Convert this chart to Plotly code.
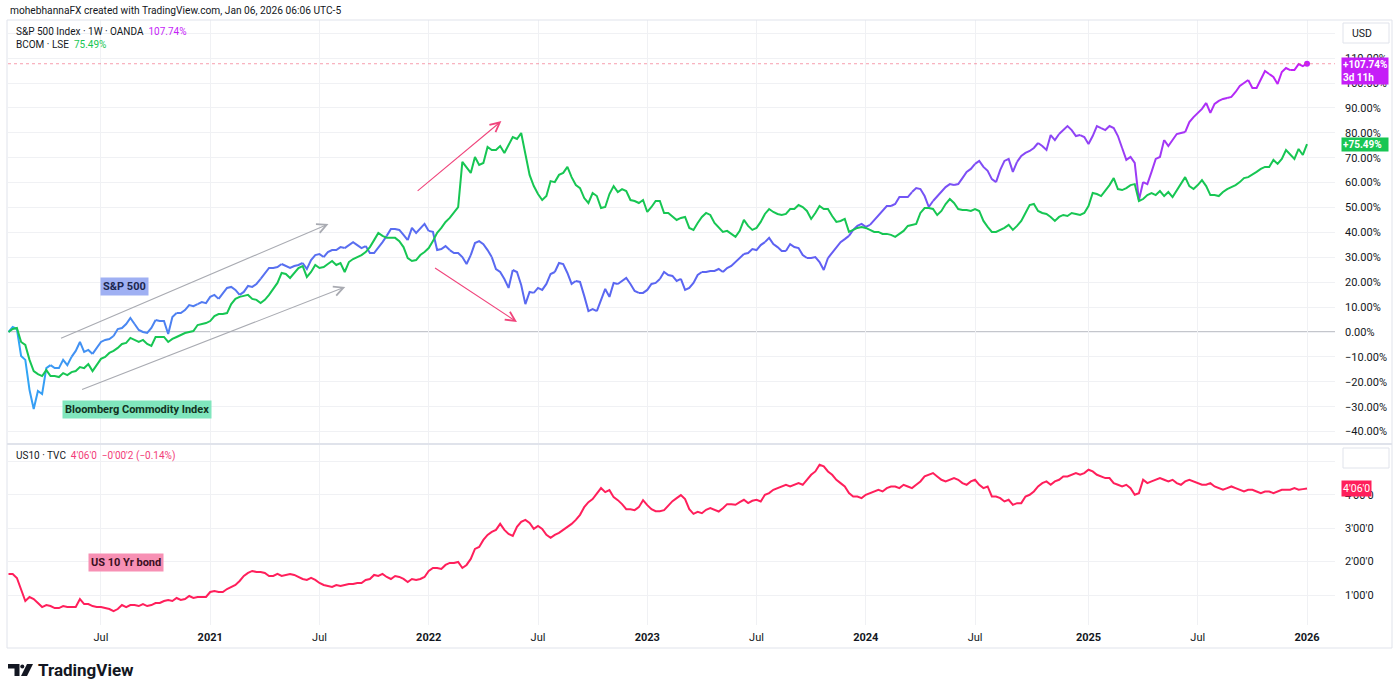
import plotly.graph_objects as go
import pandas as pd

# ---------------- data (weekly bars, Monday stamps) ----------------
week_dates = pd.date_range("2020-02-03", periods=310, freq="7D")

spx_pct = [
    0, 2.0, 1.2, -9.6, -11.2, -23.3, -30.9, -23.7, -24.9, -14.5,
    -13.3, -14.5, -14.5, -11.2, -13.3, -10.0, -7.6, -4.0, -8.0, -7.2,
    -8.8, -6.4, -4.0, -3.2, -2.8, -1.6, 1.2, 1.6, 3.2, 5.6,
    3.2, 0.8, 0.0, -0.4, 1.6, 4.8, 4.4, 4.4, -0.8, 6.0,
    7.6, 7.6, 8.8, 10.8, 10.4, 11.2, 12.0, 11.6, 14.1, 14.9,
    13.3, 15.7, 17.7, 18.1, 16.9, 14.9, 16.1, 18.5, 18.1, 19.3,
    21.3, 23.3, 25.7, 25.7, 26.1, 27.3, 26.5, 25.7, 26.5, 26.9,
    27.7, 25.3, 28.9, 30.9, 31.3, 30.1, 32.1, 32.9, 32.9, 34.1,
    33.7, 34.9, 36.1, 34.9, 33.7, 34.5, 31.7, 31.7, 33.7, 36.1,
    38.6, 41.4, 41.4, 41.0, 39.0, 36.9, 41.8, 39.8, 41.8, 43.4,
    40.6, 40.2, 32.9, 33.3, 34.5, 32.9, 31.7, 31.7, 30.1, 27.3,
    30.9, 35.7, 36.5, 35.3, 32.9, 30.1, 25.3, 24.1, 21.3, 17.7,
    24.9, 24.1, 18.9, 11.2, 16.1, 15.7, 17.7, 16.9, 19.3, 23.3,
    24.1, 27.7, 27.3, 23.7, 19.3, 20.5, 20.1, 14.5, 8.4, 9.2,
    8.4, 12.9, 17.3, 14.1, 19.7, 19.3, 20.5, 21.7, 19.3, 16.5,
    15.7, 15.7, 16.9, 19.3, 19.7, 21.3, 24.1, 22.9, 22.5, 20.5,
    21.3, 16.9, 17.7, 19.7, 22.9, 24.1, 24.1, 24.5, 24.5, 25.3,
    24.1, 25.7, 26.5, 28.1, 29.7, 31.3, 31.7, 33.3, 32.9, 34.9,
    36.1, 37.8, 35.3, 34.1, 32.5, 32.5, 35.3, 34.1, 33.7, 30.9,
    29.7, 29.7, 30.1, 28.1, 24.9, 29.7, 31.7, 33.7, 36.1, 37.3,
    38.6, 41.0, 42.6, 43.4, 42.2, 43.0, 45.0, 47.0, 48.6, 50.6,
    50.6, 51.4, 54.2, 54.2, 54.2, 56.2, 57.8, 57.4, 54.6, 50.2,
    52.6, 54.6, 56.2, 58.2, 59.4, 59.0, 59.4, 61.8, 64.3, 65.5,
    67.5, 68.7, 66.3, 64.7, 61.4, 60.2, 65.1, 68.7, 69.5, 64.3,
    68.3, 70.7, 71.9, 72.7, 73.9, 75.9, 74.7, 73.1, 79.1, 77.1,
    79.5, 81.1, 82.7, 81.1, 78.7, 79.1, 78.3, 75.5, 78.7, 82.7,
    81.9, 81.1, 82.7, 81.9, 78.7, 73.9, 69.1, 70.3, 67.9, 53.0,
    60.2, 59.4, 64.3, 69.5, 70.3, 77.1, 74.7, 77.1, 79.5, 79.9,
    80.3, 84.3, 86.3, 88.0, 89.6, 92.0, 88.0, 91.6, 92.8, 93.6,
    94.0, 94.4, 96.4, 98.8, 100.0, 101.2, 98.0, 98.0, 101.2, 104.8,
    103.6, 102.4, 99.6, 104.4, 106.0, 105.2, 105.2, 107.6, 106.8, 107.74,
]

bcom_pct = [
    0, 1.2, 1.6, -4.0, -5.2, -11.2, -15.7, -16.9, -17.7, -15.3,
    -17.7, -17.7, -18.1, -16.5, -17.3, -16.1, -15.7, -14.1, -14.5, -12.9,
    -15.7, -13.3, -10.8, -10.0, -8.4, -7.6, -6.4, -4.8, -4.4, -2.4,
    -3.2, -4.0, -3.2, -4.8, -5.6, -2.0, -2.0, -2.0, -4.0, -2.8,
    -2.0, -1.2, -0.4, 0.0, 0.4, 2.8, 3.2, 3.6, 4.4, 6.4,
    7.2, 7.2, 7.6, 11.2, 13.3, 14.1, 14.5, 14.9, 13.3, 12.9,
    11.6, 12.9, 14.9, 17.3, 19.7, 23.7, 23.3, 21.7, 23.7, 25.7,
    26.5, 22.1, 24.1, 26.9, 25.7, 26.1, 27.3, 28.5, 26.9, 27.7,
    24.1, 28.1, 29.3, 30.1, 30.9, 32.1, 34.1, 36.9, 39.8, 38.6,
    37.8, 37.8, 37.8, 36.5, 34.1, 29.7, 28.5, 28.9, 30.9, 32.1,
    33.7, 36.5, 39.8, 41.8, 44.2, 45.8, 48.2, 50.2, 68.3, 65.9,
    63.9, 70.3, 67.1, 67.9, 74.3, 73.1, 73.1, 74.7, 71.9, 75.1,
    78.3, 77.5, 79.9, 71.5, 63.1, 58.6, 55.4, 53.0, 54.6, 60.6,
    60.2, 63.1, 63.9, 66.3, 62.2, 59.0, 57.8, 53.8, 51.8, 55.8,
    54.6, 49.8, 50.2, 55.4, 58.6, 56.2, 57.4, 56.6, 53.0, 52.6,
    51.8, 53.0, 48.2, 50.2, 52.6, 52.6, 47.8, 47.8, 46.2, 45.0,
    45.8, 46.2, 41.8, 41.0, 43.8, 46.2, 47.8, 47.0, 43.8, 42.2,
    40.2, 40.6, 39.4, 38.2, 40.6, 45.0, 42.6, 41.0, 41.8, 44.2,
    47.4, 49.4, 48.2, 47.4, 47.0, 47.4, 49.4, 49.4, 51.0, 50.2,
    48.6, 45.4, 47.8, 50.6, 49.4, 49.4, 46.6, 44.2, 44.6, 45.4,
    40.2, 41.0, 41.8, 42.2, 41.8, 41.0, 40.2, 40.2, 39.4, 39.4,
    39.0, 38.2, 39.4, 40.6, 42.6, 43.0, 43.4, 47.8, 49.8, 49.8,
    49.4, 47.0, 48.6, 51.4, 53.4, 51.8, 49.4, 49.0, 49.0, 48.6,
    49.4, 48.6, 44.6, 42.2, 40.2, 40.2, 41.0, 41.8, 43.0, 41.0,
    42.6, 44.6, 47.8, 51.0, 51.4, 48.6, 47.8, 47.4, 46.2, 44.6,
    46.2, 47.0, 46.6, 47.8, 47.4, 47.0, 47.8, 50.6, 55.8, 55.4,
    54.6, 56.6, 59.0, 61.8, 57.4, 57.0, 57.8, 59.0, 59.4, 52.6,
    53.4, 55.0, 55.8, 55.0, 56.6, 54.6, 56.2, 54.2, 56.9, 59.4,
    62.2, 58.6, 57.4, 59.0, 61.0, 58.6, 55.0, 55.0, 54.6, 56.2,
    57.4, 58.2, 59.0, 60.2, 61.8, 62.2, 63.1, 64.3, 65.5, 66.3,
    66.3, 69.1, 67.5, 69.5, 73.1, 71.5, 69.5, 73.5, 71.1, 75.49,
]

us10_yield = [
    1.63, 1.63, 1.51, 1.18, 0.82, 0.94, 0.88, 0.76, 0.64, 0.70,
    0.67, 0.61, 0.61, 0.67, 0.64, 0.64, 0.64, 0.88, 0.73, 0.73,
    0.67, 0.64, 0.64, 0.61, 0.58, 0.52, 0.58, 0.70, 0.64, 0.70,
    0.70, 0.67, 0.73, 0.67, 0.70, 0.76, 0.76, 0.82, 0.85, 0.82,
    0.91, 0.85, 0.88, 0.97, 0.91, 0.94, 0.94, 0.94, 1.09, 1.12,
    1.09, 1.09, 1.18, 1.24, 1.30, 1.42, 1.57, 1.66, 1.72, 1.69,
    1.69, 1.66, 1.57, 1.57, 1.63, 1.57, 1.60, 1.63, 1.60, 1.54,
    1.48, 1.45, 1.51, 1.45, 1.36, 1.30, 1.27, 1.24, 1.30, 1.27,
    1.30, 1.33, 1.33, 1.36, 1.36, 1.45, 1.48, 1.60, 1.57, 1.63,
    1.54, 1.48, 1.57, 1.54, 1.48, 1.39, 1.48, 1.45, 1.48, 1.54,
    1.72, 1.81, 1.81, 1.78, 1.90, 1.96, 1.96, 1.99, 1.81, 1.90,
    2.08, 2.38, 2.44, 2.65, 2.80, 2.89, 2.95, 3.13, 2.95, 2.83,
    2.77, 3.04, 3.19, 3.25, 3.16, 2.98, 3.07, 2.98, 2.80, 2.71,
    2.80, 2.86, 2.95, 3.04, 3.13, 3.25, 3.40, 3.63, 3.78, 3.87,
    4.02, 4.20, 4.08, 4.14, 3.93, 3.84, 3.72, 3.57, 3.57, 3.54,
    3.63, 3.84, 3.69, 3.57, 3.51, 3.51, 3.54, 3.69, 3.81, 3.90,
    3.99, 3.87, 3.57, 3.43, 3.49, 3.45, 3.55, 3.60, 3.55, 3.50,
    3.60, 3.72, 3.72, 3.70, 3.78, 3.85, 3.75, 3.82, 3.85, 3.80,
    4.00, 4.05, 4.15, 4.20, 4.25, 4.30, 4.25, 4.30, 4.35, 4.30,
    4.45, 4.60, 4.70, 4.90, 4.85, 4.70, 4.60, 4.45, 4.35, 4.25,
    4.05, 3.95, 3.95, 3.90, 4.00, 4.05, 4.10, 4.15, 4.10, 4.20,
    4.25, 4.25, 4.20, 4.30, 4.25, 4.20, 4.30, 4.40, 4.55, 4.60,
    4.65, 4.55, 4.45, 4.40, 4.45, 4.50, 4.45, 4.35, 4.30, 4.40,
    4.45, 4.30, 4.20, 4.25, 3.95, 3.95, 3.90, 3.80, 3.85, 3.70,
    3.75, 3.75, 3.95, 4.00, 4.10, 4.25, 4.35, 4.40, 4.30, 4.40,
    4.45, 4.55, 4.55, 4.60, 4.65, 4.60, 4.65, 4.75, 4.70, 4.60,
    4.55, 4.50, 4.50, 4.35, 4.30, 4.25, 4.30, 4.20, 4.00, 4.05,
    4.45, 4.35, 4.40, 4.45, 4.50, 4.45, 4.40, 4.45, 4.35, 4.30,
    4.40, 4.45, 4.40, 4.35, 4.30, 4.30, 4.35, 4.25, 4.20, 4.15,
    4.20, 4.25, 4.20, 4.15, 4.10, 4.15, 4.15, 4.10, 4.05, 4.10,
    4.10, 4.05, 4.10, 4.15, 4.15, 4.15, 4.20, 4.15, 4.17, 4.19,
]

x_tick_dates = ["2020-07-06", "2021-01-04", "2021-07-05", "2022-01-03", "2022-07-04", "2023-01-02",
                "2023-07-03", "2024-01-01", "2024-07-01", "2025-01-06", "2025-07-07", "2026-01-05"]
x_tick_labels = ["Jul", "<b>2021</b>", "Jul", "<b>2022</b>", "Jul", "<b>2023</b>",
                 "Jul", "<b>2024</b>", "Jul", "<b>2025</b>", "Jul", "<b>2026</b>"]
pct_ticks = list(range(-40, 130, 10))
us10_ticks = [1, 2, 3, 4, 5]
us10_tick_labels = ["1'00'0", "2'00'0", "3'00'0", "4'00'0", ""]

# ---------------- helpers ----------------
W, H = 1400, 693
def px(x):
    return x / W
def py(y):
    return 1 - y / H

FONT = "Roboto, 'Liberation Sans', Arial, sans-serif"
TXT = "#131722"
GRID = "#f0f1f4"
GREEN = "#17c653"
PURPLE_END = "#c51ef7"
BOND = "#ff1f5b"

stops = [(0.0, (46, 168, 245)), (0.07, (70, 140, 242)), (0.2, (88, 112, 240)),
         (0.6, (92, 98, 242)), (0.68, (112, 86, 245)), (0.85, (150, 64, 245)),
         (1.0, (197, 30, 247))]

def grad(t):
    for (t0, c0), (t1, c1) in zip(stops[:-1], stops[1:]):
        if t0 <= t <= t1:
            f = (t - t0) / (t1 - t0)
            c = [round(a + (b - a) * f) for a, b in zip(c0, c1)]
            return f"rgb({c[0]},{c[1]},{c[2]})"
    return f"rgb{stops[-1][1]}"

fig = go.Figure()

# S&P 500 with gradient (segmented line)
n = len(spx_pct)
step = 5
for s in range(0, n - 1, step):
    e = min(s + step, n - 1)
    t = (s + e) / 2 / (n - 1)
    fig.add_trace(go.Scatter(x=week_dates[s:e + 1], y=spx_pct[s:e + 1], mode="lines",
                             line=dict(color=grad(t), width=2), hoverinfo="skip",
                             showlegend=False, xaxis="x", yaxis="y"))

# BCOM
fig.add_trace(go.Scatter(x=week_dates, y=bcom_pct, mode="lines",
                         line=dict(color=GREEN, width=2), hoverinfo="skip",
                         showlegend=False, xaxis="x", yaxis="y"))

# end dot for S&P
fig.add_trace(go.Scatter(x=[week_dates[-1]], y=[spx_pct[-1]], mode="markers",
                         marker=dict(color=PURPLE_END, size=6), hoverinfo="skip",
                         showlegend=False, xaxis="x", yaxis="y"))

# US10
fig.add_trace(go.Scatter(x=week_dates, y=us10_yield, mode="lines",
                         line=dict(color=BOND, width=2), hoverinfo="skip",
                         showlegend=False, xaxis="x", yaxis="y2"))

x_start = week_dates[0] - pd.Timedelta(hours=20)
x_end = week_dates[-1] + pd.Timedelta(days=46.6)

fig.update_layout(
    width=W, height=H, autosize=False,
    margin=dict(l=0, r=0, t=0, b=0),
    paper_bgcolor="white", plot_bgcolor="white",
    font=dict(family=FONT, size=11, color=TXT),
    showlegend=False,
    xaxis=dict(domain=[px(8), px(1335)], anchor="y2", type="date",
               range=[x_start, x_end], tickvals=x_tick_dates, ticktext=x_tick_labels,
               showgrid=True, gridcolor=GRID, gridwidth=1, zeroline=False, showline=False,
               ticks="", tickfont=dict(size=11, color=TXT), ticklabelstandoff=4),
    yaxis=dict(domain=[py(443), py(20)], range=[-44.58, 125.3], side="right", anchor="x",
               tickvals=pct_ticks,
               ticktext=[("" if v == 120 else (f"{v:.2f}%".replace("-", "\u2212"))) for v in pct_ticks],
               showgrid=True, gridcolor=GRID, zeroline=False, showline=False, ticks="",
               tickfont=dict(size=11, color=TXT), ticklabelstandoff=9),
    yaxis2=dict(domain=[py(625), py(445)], range=[0.102, 5.491], side="right", anchor="x",
                tickvals=us10_ticks, ticktext=us10_tick_labels,
                showgrid=True, gridcolor=GRID, zeroline=False, showline=False, ticks="",
                tickfont=dict(size=11, color=TXT), ticklabelstandoff=9),
)

shapes = []
# zero line
shapes.append(dict(type="line", xref="x domain", yref="y", x0=0, x1=1, y0=0, y1=0,
                   line=dict(color="#c4c6cc", width=2), layer="below"))
# dotted price line
shapes.append(dict(type="line", xref="x domain", yref="y", x0=0, x1=1, y0=107.74, y1=107.74,
                   line=dict(color="rgba(242,80,110,0.55)", width=1, dash="dot")))
# frame + pane separator
FR = "#e0e3eb"
shapes += [
    dict(type="line", xref="paper", yref="paper", x0=px(7), x1=px(1392), y0=py(20), y1=py(20), line=dict(color=FR, width=1)),
    dict(type="line", xref="paper", yref="paper", x0=px(7), x1=px(7), y0=py(20), y1=py(648), line=dict(color=FR, width=1)),
    dict(type="line", xref="paper", yref="paper", x0=px(1392), x1=px(1392), y0=py(20), y1=py(648), line=dict(color=FR, width=1)),
    dict(type="line", xref="paper", yref="paper", x0=px(7), x1=px(1392), y0=py(648), y1=py(648), line=dict(color=FR, width=1)),
    dict(type="line", xref="paper", yref="paper", x0=px(7), x1=px(1392), y0=py(444), y1=py(444), line=dict(color=FR, width=2)),
]
# USD box and empty box
shapes.append(dict(type="rect", xref="paper", yref="paper", x0=px(1343), x1=px(1389), y0=py(43), y1=py(23),
                   line=dict(color="#e0e3eb", width=1), fillcolor="white"))
shapes.append(dict(type="rect", xref="paper", yref="paper", x0=px(1343), x1=px(1389), y0=py(468), y1=py(448),
                   line=dict(color="#e0e3eb", width=1), fillcolor="white"))
# TradingView logo
shapes.append(dict(type="path", xref="paper", yref="paper",
                   path=f"M {px(8)} {py(664)} L {px(19.5)} {py(664)} L {px(19.5)} {py(676)} L {px(14.5)} {py(676)} L {px(14.5)} {py(668.5)} L {px(8)} {py(668.5)} Z",
                   fillcolor="#131722", line=dict(width=0)))
shapes.append(dict(type="circle", xref="paper", yref="paper", x0=px(20.3), x1=px(24.3), y0=py(668.6), y1=py(664.6),
                   fillcolor="#131722", line=dict(width=0)))
shapes.append(dict(type="path", xref="paper", yref="paper",
                   path=f"M {px(27)} {py(664)} L {px(33)} {py(664)} L {px(27)} {py(676)} L {px(21)} {py(676)} Z",
                   fillcolor="#131722", line=dict(width=0)))
fig.update_layout(shapes=shapes)

ann = []
def ptext(x, y, text, size=10, color=TXT, xanchor="left", **kw):
    ann.append(dict(xref="paper", yref="paper", x=px(x), y=py(y), text=text, showarrow=False,
                    xanchor=xanchor, yanchor="middle", font=dict(size=size, color=color, family=FONT), **kw))

ptext(8, 10, "mohebhannaFX created with TradingView.com, Jan 06, 2026 06:06 UTC-5", size=10.2)
ptext(14, 31, "S&amp;P 500 Index \u00b7 1W \u00b7 OANDA  <span style='color:#c51ef7'>107.74%</span>")
ptext(14, 44, "BCOM \u00b7 LSE  <span style='color:#17c653'>75.49%</span>")
ptext(14, 456, "US10 \u00b7 TVC  <span style='color:#f23c78'>4'06'0  \u22120'00'2 (\u22120.14%)</span>")
ptext(1350, 33, "USD", size=10.5)
ptext(36, 670, "<b>TradingView</b>", size=17)

# price labels on the right scale
ann.append(dict(xref="paper", yref="y", x=px(1341), y=107.74, yanchor="top", yshift=7, xanchor="left",
                text="<b>+107.74%</b><br><b>3d 11h</b>", align="left", showarrow=False,
                bgcolor=PURPLE_END, borderpad=1, font=dict(color="white", size=10, family=FONT)))
ann.append(dict(xref="paper", yref="y", x=px(1341), y=75.49, yanchor="middle", xanchor="left",
                text="<b>+75.49%</b>", showarrow=False, width=44, align="left",
                bgcolor=GREEN, borderpad=1, font=dict(color="white", size=10, family=FONT)))
ann.append(dict(xref="paper", yref="y2", x=px(1341), y=4.19, yanchor="middle", xanchor="left",
                text="4'06'0", showarrow=False,
                bgcolor=BOND, borderpad=1, font=dict(color="white", size=10.5, family=FONT)))

# drawn labels
ann.append(dict(xref="x", yref="y", x="2020-08-14", y=18.1, text="<b>S&amp;P 500</b>", showarrow=False,
                bgcolor="#9fb0f3", borderpad=2, font=dict(color="#1c2750", size=11, family=FONT)))
ann.append(dict(xref="x", yref="y", x="2020-09-04", y=-31.3, text="<b>Bloomberg Commodity Index</b>", showarrow=False,
                bgcolor="#80e6bd", borderpad=2, font=dict(color="#12331f", size=11, family=FONT)))
ann.append(dict(xref="x", yref="y2", x="2020-08-16", y=1.96, text="<b>US 10 Yr bond</b>", showarrow=False,
                bgcolor="#f790b4", borderpad=2, font=dict(color="#3a0f22", size=11, family=FONT)))

# drawn arrows
def arrow(x0, y0, x1, y1, color):
    ann.append(dict(xref="x", yref="y", axref="x", ayref="y", x=x1, y=y1, ax=x0, ay=y0,
                    text="", showarrow=True, arrowhead=5, arrowsize=1.7, arrowwidth=1.1,
                    arrowcolor=color, standoff=0, startstandoff=0))

arrow("2020-04-28", -2.8, "2021-07-20", 43.4, "#a9abb2")
arrow("2020-06-02", -23.3, "2021-08-17", 18.1, "#a9abb2")
arrow("2021-12-13", 56.2, "2022-05-04", 84.7, "#f0457c")
arrow("2022-01-11", 26.1, "2022-05-30", 4.0, "#f0457c")

fig.update_layout(annotations=ann)

fig.write_html("out.html", config={"displayModeBar": False},
               post_script="document.body.style.margin='0';document.body.style.overflow='hidden';")
